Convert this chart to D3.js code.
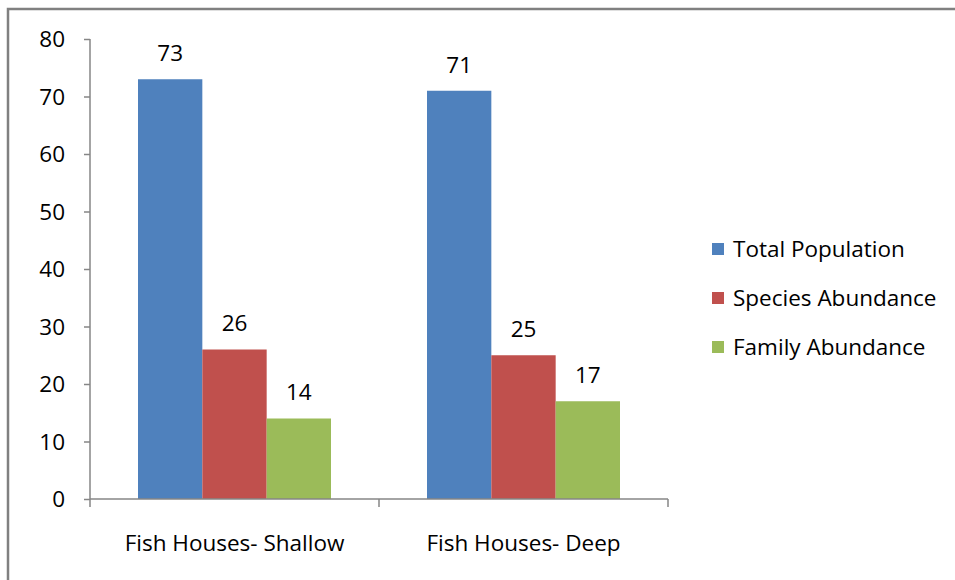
<!DOCTYPE html>
<html><head><meta charset="utf-8">
<script src="https://cdn.jsdelivr.net/npm/d3@7"></script>
<style>body{margin:0;background:#fff}svg{display:block}text{font-family:"Open Sans",sans-serif;fill:#000}</style>
</head><body><svg id="c" width="955" height="580"></svg>
<script>
const categories = ["Fish Houses- Shallow", "Fish Houses- Deep"];
const seriesNames = ["Total Population", "Species Abundance", "Family Abundance"];
const totalPopulation = [73, 71];
const speciesAbundance = [26, 25];
const familyAbundance = [14, 17];
const yTicks = [0, 10, 20, 30, 40, 50, 60, 70, 80];
const colors = ["#4F81BD", "#C0504D", "#9BBB59"];
const seriesValues = [totalPopulation, speciesAbundance, familyAbundance];
const FS = 22.5;

const svg = d3.select("#c");
svg.append("path").attr("d","M8,580 V9 H955").attr("fill","none").attr("stroke","#808080").attr("stroke-width",2.5);

const x0 = d3.scaleBand().domain(categories).range([90, 668]).paddingInner(0).paddingOuter(0);
const x1 = d3.scaleBand().domain(seriesNames).range([48, 289-48]);
const y = d3.scaleLinear().domain([0, 80]).range([499, 39]);

const g = svg.append("g");
categories.forEach((c, ci) => {
  seriesNames.forEach((s, si) => {
    const v = seriesValues[si][ci];
    const bx = x0(c) + x1(s);
    g.append("rect").attr("x", bx).attr("y", y(v)).attr("width", x1.bandwidth()).attr("height", y(0)-y(v)).attr("fill", colors[si]);
    g.append("text").attr("x", bx + x1.bandwidth()/2).attr("y", y(v) - 26).attr("dy","0.35em").attr("text-anchor","middle").attr("font-size", FS).text(v);
  });
});

// y axis
const ya = svg.append("g").attr("transform","translate(90,0)").call(d3.axisLeft(y).tickValues(yTicks).tickSize(6).tickPadding(19).tickFormat(d3.format("d")));
ya.select(".domain").attr("stroke","#868686").attr("stroke-width",1.5).attr("d","M0,39V499");
ya.selectAll(".tick line").attr("stroke","#868686").attr("stroke-width",1.5);
ya.selectAll(".tick text").attr("font-size",FS).attr("fill","#000").attr("dy","0.35em").style("font-family","'Open Sans',sans-serif");

// x axis
const xa = svg.append("g").attr("transform","translate(0,499)");
xa.append("line").attr("x1",90).attr("x2",668).attr("stroke","#868686").attr("stroke-width",1.5);
[90, ...categories.map(c => x0(c)+x0.bandwidth())].forEach(t => {
  xa.append("line").attr("x1",t).attr("x2",t).attr("y1",0).attr("y2",8).attr("stroke","#868686").attr("stroke-width",1.5);
});
categories.forEach(c => {
  xa.append("text").attr("x", x0(c)+x0.bandwidth()/2).attr("y", 44).attr("dy","0.35em").attr("text-anchor","middle").attr("font-size",FS).text(c);
});

// legend
const lg = svg.append("g");
seriesNames.forEach((s, i) => {
  const ly = 249 + i*49;
  lg.append("rect").attr("x",712).attr("y",ly-6).attr("width",12).attr("height",12).attr("fill",colors[i]);
  lg.append("text").attr("x",733).attr("y",ly).attr("dy","0.35em").attr("font-size",FS).text(s);
});
</script></body></html>
